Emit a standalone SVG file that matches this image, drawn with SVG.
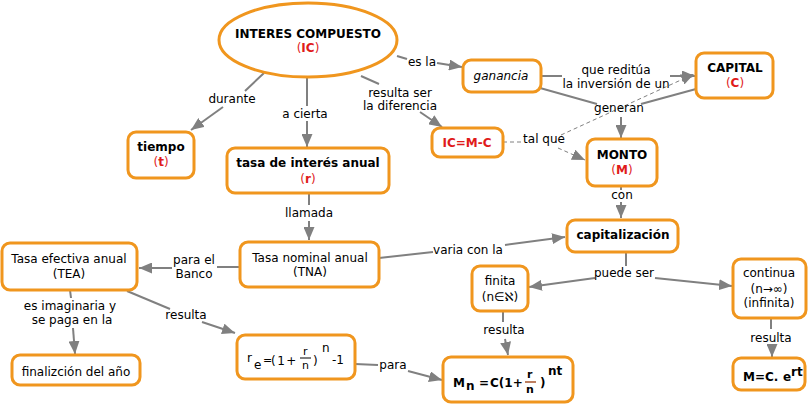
<svg xmlns="http://www.w3.org/2000/svg" width="812" height="404" viewBox="0 0 812 404">
<defs>
<marker id="arr" markerUnits="userSpaceOnUse" markerWidth="14" markerHeight="11" refX="13" refY="5.5" orient="auto">
<path d="M0,0 L13,5.5 L0,11 z" fill="#808080"/>
</marker>
<style>
.n{fill:#fff;stroke:#F0961E;stroke-width:3}
.t{font-family:"DejaVu Sans",Verdana,sans-serif;font-size:12px;fill:#000;text-anchor:middle}
.b{font-weight:bold}
.r{fill:#E01B1B}
.br{fill:#9A3A0C;font-weight:bold}
.l{font-family:"DejaVu Sans",Verdana,sans-serif;font-size:12px;fill:#000;text-anchor:middle}
.c path{fill:none;stroke:#808080;stroke-width:2}
.c path.d{stroke-width:1;stroke-dasharray:4,3}
.s{font-family:"DejaVu Sans",Verdana,sans-serif;fill:#000}
</style>
</defs>
<rect width="812" height="404" fill="#fff"/>

<g id="connectors" class="c">
<path d="M264,73 L245,91"/>
<path d="M223,107 L191,130" marker-end="url(#arr)"/>
<path d="M307,78 L307,106"/>
<path d="M307,121 L307,147" marker-end="url(#arr)"/>
<path d="M361,76 L379,84"/>
<path d="M420,112 L442,127" marker-end="url(#arr)"/>
<path d="M397,56 L407,59"/>
<path d="M437,63 L462,67" marker-end="url(#arr)"/>
<path d="M541,76 L562,76"/>
<path d="M670,76 L695,76" marker-end="url(#arr)"/>
<path d="M540,88 L597,104"/>
<path d="M696,89 L641,104"/>
<path d="M621,117 L621,138" marker-end="url(#arr)"/>
<path class="d" d="M503,142 L522,142"/>
<path class="d" d="M558,148 L585,160" marker-end="url(#arr)"/>
<path class="d" d="M561,135 L694,74" marker-end="url(#arr)"/>
<path d="M621,186 L621,190"/>
<path d="M621,202 L621,218" marker-end="url(#arr)"/>
<path d="M309,193 L309,205"/>
<path d="M309,221 L309,240" marker-end="url(#arr)"/>
<path d="M240,267 L217,267"/>
<path d="M172,268 L139,268" marker-end="url(#arr)"/>
<path d="M379,258 L433,252"/>
<path d="M505,245 L565,237" marker-end="url(#arr)"/>
<path d="M626,252 L626,266"/>
<path d="M595,278 L529,287" marker-end="url(#arr)"/>
<path d="M655,278 L732,286" marker-end="url(#arr)"/>
<path d="M503,311 L503,322"/>
<path d="M505,339 L508,355" marker-end="url(#arr)"/>
<path d="M771,318 L771,329"/>
<path d="M772,346 L772,357" marker-end="url(#arr)"/>
<path d="M70,290 L71,298"/>
<path d="M73,328 L75,354" marker-end="url(#arr)"/>
<path d="M127,291 L170,309"/>
<path d="M202,322 L235,333" marker-end="url(#arr)"/>
<path d="M355,364 L378,365"/>
<path d="M408,371 L442,380" marker-end="url(#arr)"/>
</g>

<g id="labels">
<text class="l" x="232" y="103">durante</text>
<text class="l" x="305" y="118">a cierta</text>
<text class="l" x="400" y="97">resulta ser</text>
<text class="l" x="400" y="110">la diferencia</text>
<text class="l" x="422" y="66">es la</text>
<text class="l" x="616" y="74">que reditúa</text>
<text class="l" x="616" y="88">la inversión de un</text>
<text class="l" x="619" y="112">generan</text>
<text class="l" x="544" y="143">tal que</text>
<text class="l" x="622" y="199">con</text>
<text class="l" x="309" y="217">llamada</text>
<text class="l" x="194" y="264">para el</text>
<text class="l" x="194" y="278">Banco</text>
<text class="l" x="468" y="254">varia con la</text>
<text class="l" x="624" y="277">puede ser</text>
<text class="l" x="504" y="334">resulta</text>
<text class="l" x="771" y="342">resulta</text>
<text class="l" x="70" y="310">es imaginaria y</text>
<text class="l" x="72" y="324">se paga en la</text>
<text class="l" x="186" y="319">resulta</text>
<text class="l" x="393" y="369">para</text>
</g>

<g id="n-interes">
<ellipse class="n" cx="308" cy="40" rx="89" ry="37"/>
<text class="t b" x="308" y="38">INTERES COMPUESTO</text>
<text class="t r" x="308" y="52">(<tspan font-weight="bold">IC</tspan>)</text>
</g>
<g id="n-ganancia">
<rect class="n" x="463" y="60" width="78" height="32" rx="8"/>
<text class="t" x="501" y="80" font-style="italic">ganancia</text>
</g>
<g id="n-capital">
<rect class="n" x="696" y="53" width="77" height="45" rx="8"/>
<text class="t b" x="735" y="72">CAPITAL</text>
<text class="t r" x="735" y="87">(<tspan font-weight="bold">C</tspan>)</text>
</g>
<g id="n-icmc">
<rect class="n" x="432" y="128" width="71" height="29" rx="8"/>
<text class="t b r" x="467" y="147">IC=M-C</text>
</g>
<g id="n-monto">
<rect class="n" x="587" y="139" width="70" height="47" rx="8"/>
<text class="t b" x="622" y="159">MONTO</text>
<text class="t r" x="622" y="174">(<tspan font-weight="bold">M</tspan>)</text>
</g>
<g id="n-tiempo">
<rect class="n" x="128" y="132" width="66" height="46" rx="8"/>
<text class="t b" x="161" y="151">tiempo</text>
<text class="t r" x="161" y="166">(<tspan font-weight="bold">t</tspan>)</text>
</g>
<g id="n-tasa">
<rect class="n" x="227" y="148" width="162" height="45" rx="8"/>
<text class="t b" x="308" y="167">tasa de interés anual</text>
<text class="t r" x="308" y="183">(<tspan font-weight="bold">r</tspan>)</text>
</g>
<g id="n-tea">
<rect class="n" x="2" y="243" width="135" height="47" rx="8"/>
<text class="t" x="69" y="263">Tasa efectiva anual</text>
<text class="t" x="69" y="278">(TEA)</text>
</g>
<g id="n-tna">
<rect class="n" x="240" y="242" width="139" height="45" rx="8"/>
<text class="t" x="310" y="262">Tasa nominal anual</text>
<text class="t" x="310" y="276">(TNA)</text>
</g>
<g id="n-final">
<rect class="n" x="12" y="355" width="128" height="30" rx="8"/>
<text class="t" x="76" y="376">finalizción del año</text>
</g>
<g id="n-re">
<rect class="n" x="237" y="335" width="118" height="44" rx="8"/>
<text class="s" font-size="12" x="247" y="362">r</text>
<text class="s" font-size="12" x="254" y="369">e</text>
<text class="s" font-size="11" x="263" y="364">=</text>
<text class="s" font-size="12" x="271" y="365" letter-spacing="1.5">(1+</text>
<text class="s" font-size="11" x="303" y="355">r</text>
<line x1="300" y1="358" x2="311" y2="358" stroke="#000" stroke-width="1"/>
<text class="s" font-size="11" x="302" y="369">n</text>
<text class="s" font-size="12" x="313" y="365">)</text>
<text class="s" font-size="12" x="322" y="352">n</text>
<text class="s" font-size="12" x="332" y="364">-1</text>
</g>
<g id="n-cap">
<rect class="n" x="567" y="220" width="111" height="32" rx="8"/>
<text class="t b" x="623" y="239">capitalización</text>
</g>
<g id="n-finita">
<rect class="n" x="472" y="266" width="56" height="45" rx="8"/>
<text class="t" x="500" y="285">finita</text>
<text class="t" x="500" y="301" font-size="11">(n∈ℵ)</text>
</g>
<g id="n-continua">
<rect class="n" x="733" y="259" width="73" height="59" rx="8"/>
<text class="t" x="769" y="277">continua</text>
<text class="t" x="769" y="293" font-size="11">(n→∞)</text>
<text class="t" x="769" y="307">(infinita)</text>
</g>
<g id="n-mn">
<rect class="n" x="443" y="357" width="130" height="45" rx="8"/>
<text class="s br" font-size="12" x="453" y="387">M</text>
<text class="s br" font-size="12" x="466" y="390">n</text>
<text class="s br" font-size="12" x="479" y="387">=</text>
<text class="s br" font-size="12" x="490" y="387">C(1+</text>
<text class="s br" font-size="11" x="527" y="378">r</text>
<line x1="525" y1="382" x2="536" y2="382" stroke="#9A3A0C" stroke-width="1.3"/>
<text class="s br" font-size="11" x="526" y="393">n</text>
<text class="s br" font-size="12" x="540" y="387">)</text>
<text class="s br" font-size="12" x="548" y="375">nt</text>
</g>
<g id="n-mcert">
<rect class="n" x="733" y="358" width="72" height="32" rx="8"/>
<text class="s br" font-size="12" x="743" y="381">M=C.</text>
<text class="s br" font-size="12" x="783" y="381">e</text>
<text class="s br" font-size="12" x="791" y="376">rt</text>
</g>
</svg>
